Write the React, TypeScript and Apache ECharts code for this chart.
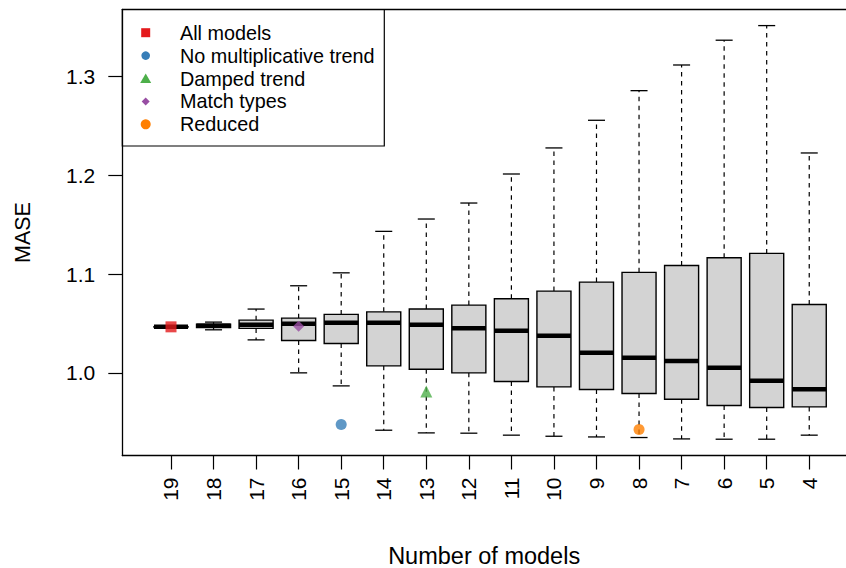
import React, { useEffect, useRef } from "react";
import * as echarts from "echarts";

const labels = ["19", "18", "17", "16", "15", "14", "13", "12", "11", "10", "9", "8", "7", "6", "5", "4"];
const whiskerLow = [1.0465, 1.0436, 1.0334, 1.0, 0.9868, 0.9419, 0.9392, 0.9389, 0.9369, 0.9358, 0.9351, 0.9345, 0.9331, 0.9328, 0.9328, 0.9369];
const q1 = [1.0464, 1.046, 1.045, 1.0328, 1.0298, 1.0071, 1.0037, 1.0, 0.9913, 0.9858, 0.9832, 0.9791, 0.9733, 0.967, 0.9649, 0.9655];
const median = [1.0466, 1.0476, 1.0486, 1.0497, 1.0507, 1.0507, 1.0486, 1.0453, 1.0426, 1.0375, 1.0203, 1.0152, 1.0119, 1.0051, 0.9919, 0.9835];
const q3 = [1.0468, 1.0493, 1.0534, 1.0554, 1.0592, 1.0618, 1.0646, 1.0686, 1.075, 1.0828, 1.0919, 1.1018, 1.1088, 1.1166, 1.121, 1.0693];
const whiskerHigh = [1.0467, 1.0514, 1.0646, 1.0882, 1.1013, 1.1433, 1.1558, 1.172, 1.2014, 1.2278, 1.2558, 1.2858, 1.3118, 1.3369, 1.3517, 1.2227];

const yTicks = [1.0, 1.1, 1.2, 1.3];

const markerNames = ["All models", "No multiplicative trend", "Damped trend", "Match types", "Reduced"];
const markerColors = ["#E41A1C", "#377EB8", "#4DAF4A", "#984EA3", "#FF7F00"];
const markerSymbols = ["rect", "circle", "triangle", "diamond", "circle"];
const markerSizes = [11, 11, 12, 11, 11];
const markerBox = ["19", "15", "13", "16", "8"];
const markerValues = [1.0466, 0.9477, 0.981, 1.0473, 0.9426];

const FONT = "'Liberation Sans', Arial, Helvetica, sans-serif";
const FS_LEGEND = 19.8;
const FS_TICK = 21;
const FS_TITLE = 23.5;

const X_MIN = -0.1445;
const X_MAX = 16.864;

export default function App() {
  const ref = useRef<HTMLDivElement>(null);
  useEffect(() => {
    if (!ref.current) return;
    const chart = echarts.init(ref.current, null, { renderer: "svg" });
    const positions = labels.map((_, i) => i + 1);
    const boxData = labels.map((_, i) => [i + 1, whiskerLow[i], q1[i], median[i], q3[i], whiskerHigh[i]]);

    const scatterSeries = markerNames.map((name, k) => ({
      type: "scatter",
      name,
      symbol: markerSymbols[k],
      symbolSize: markerSizes[k],
      itemStyle: { color: markerColors[k] },
      data: [[labels.indexOf(markerBox[k]) + 1, markerValues[k]]],
      z: 10,
    }));

    const legendX = 122.3;
    const legendY = 9.5;
    const rowY0 = 32.7;
    const rowGap = 22.9;
    const mx = 145.7;
    const legendChildren: any[] = [
      {
        type: "rect",
        shape: { x: legendX, y: legendY, width: 262, height: 136.5 },
        style: { fill: "#fff", stroke: "#000", lineWidth: 1.2 },
      },
    ];
    markerNames.forEach((name, k) => {
      const cy = rowY0 + rowGap * k;
      const c = markerColors[k];
      const sym = markerSymbols[k];
      if (sym === "rect") {
        legendChildren.push({ type: "rect", shape: { x: mx - 4.5, y: cy - 4.5, width: 9, height: 9 }, style: { fill: c } });
      } else if (sym === "circle") {
        legendChildren.push({ type: "circle", shape: { cx: mx, cy, r: k === 4 ? 5 : 4.3 }, style: { fill: c } });
      } else if (sym === "triangle") {
        legendChildren.push({ type: "polygon", shape: { points: [[mx, cy - 5], [mx + 5.5, cy + 4.5], [mx - 5.5, cy + 4.5]] }, style: { fill: c } });
      } else {
        legendChildren.push({ type: "polygon", shape: { points: [[mx, cy - 4], [mx + 4, cy], [mx, cy + 4], [mx - 4, cy]] }, style: { fill: c } });
      }
      legendChildren.push({
        type: "text",
        x: 180,
        y: cy,
        style: { text: name, fill: "#000", font: `${FS_LEGEND}px ${FONT}`, verticalAlign: "middle" },
      });
    });

    chart.setOption({
      animation: false,
      backgroundColor: "#fff",
      textStyle: { fontFamily: FONT },
      grid: {
        left: 122.3,
        top: 9.5,
        right: 0,
        height: 446,
        show: false,
        containLabel: false,
        outerBoundsMode: "none",
      },
      xAxis: [
        {
          type: "value",
          min: X_MIN,
          max: X_MAX,
          position: "bottom",
          axisLine: { show: true, onZero: false, lineStyle: { color: "#000", width: 1.3 } },
          splitLine: { show: false },
          axisTick: { show: true, length: 14, lineStyle: { color: "#000", width: 1.2 }, customValues: positions },
          axisLabel: {
            show: true,
            customValues: positions,
            rotate: 90,
            margin: 22,
            fontSize: FS_TICK,
            color: "#000",
            fontFamily: FONT,
            formatter: (v: number) => labels[Math.round(v) - 1] ?? "",
          },
          name: "Number of models",
          nameLocation: "middle",
          nameGap: 88,
          nameTextStyle: { fontSize: FS_TITLE, color: "#000", fontFamily: FONT },
        },
        {
          type: "value",
          min: X_MIN,
          max: X_MAX,
          position: "top",
          axisLine: { show: true, onZero: false, lineStyle: { color: "#000", width: 1.3 } },
          splitLine: { show: false },
          axisTick: { show: false },
          axisLabel: { show: false },
        },
      ],
      yAxis: {
        type: "value",
        min: 0.9163,
        max: 1.368,
        axisLine: { show: true, onZero: false, lineStyle: { color: "#000", width: 1.3 } },
        splitLine: { show: false },
        axisTick: { show: true, length: 14, lineStyle: { color: "#000", width: 1.2 }, customValues: yTicks },
        axisLabel: {
          show: true,
          customValues: yTicks,
          margin: 27,
          fontSize: FS_TICK,
          color: "#000",
          fontFamily: FONT,
          formatter: (v: number) => v.toFixed(1),
        },
        name: "MASE",
        nameLocation: "middle",
        nameGap: 88,
        nameRotate: 90,
        nameTextStyle: { fontSize: FS_TITLE - 2, color: "#000", fontFamily: FONT },
      },
      series: [
        {
          type: "custom",
          name: "boxes",
          data: boxData,
          encode: { x: 0, y: [1, 2, 3, 4, 5] },
          renderItem: (params: any, api: any) => {
            const x = api.value(0);
            const lo = api.coord([x, api.value(1)]);
            const b1 = api.coord([x, api.value(2)]);
            const md = api.coord([x, api.value(3)]);
            const b3 = api.coord([x, api.value(4)]);
            const hi = api.coord([x, api.value(5)]);
            const bw = api.size([0.8, 0])[0];
            const cw = bw / 2;
            const cx = lo[0];
            const dash = { stroke: "#000", lineWidth: 1.2, lineDash: [4.5, 4.5] };
            const solid = { stroke: "#000", lineWidth: 1.3 };
            return {
              type: "group",
              children: [
                { type: "line", shape: { x1: cx, y1: b3[1], x2: cx, y2: hi[1] }, style: dash },
                { type: "line", shape: { x1: cx, y1: b1[1], x2: cx, y2: lo[1] }, style: dash },
                { type: "line", shape: { x1: cx - cw / 2, y1: hi[1], x2: cx + cw / 2, y2: hi[1] }, style: solid },
                { type: "line", shape: { x1: cx - cw / 2, y1: lo[1], x2: cx + cw / 2, y2: lo[1] }, style: solid },
                {
                  type: "rect",
                  shape: { x: cx - bw / 2, y: b3[1], width: bw, height: b1[1] - b3[1] },
                  style: { fill: "#D3D3D3", stroke: "#000", lineWidth: 1.4 },
                },
                { type: "line", shape: { x1: cx - bw / 2, y1: md[1], x2: cx + bw / 2, y2: md[1] }, style: { stroke: "#000", lineWidth: 4.5 } },
              ],
            };
          },
          z: 5,
        },
        ...scatterSeries,
      ],
      graphic: [{ type: "group", z: 100, children: legendChildren }],
    });
    return () => chart.dispose();
  }, []);
  return (
    <div
      ref={ref}
      style={{ position: "fixed", left: 0, top: 0, width: 846, height: 568, background: "#fff" }}
    />
  );
}
